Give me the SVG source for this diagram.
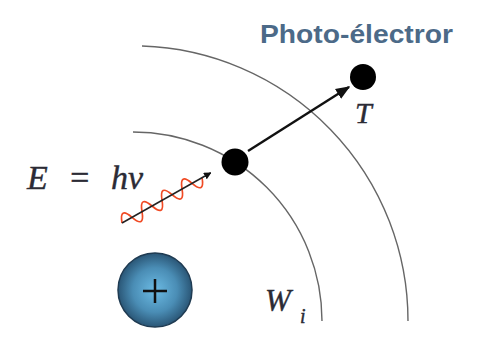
<svg xmlns="http://www.w3.org/2000/svg" width="482" height="343" viewBox="0 0 482 343">
<defs>
<radialGradient id="nuc" cx="0.5" cy="0.5" r="0.5">
<stop offset="0" stop-color="#6cbbe4"/>
<stop offset="0.6" stop-color="#4a8db5"/>
<stop offset="1" stop-color="#2a5676"/>
</radialGradient>
<marker id="ah" viewBox="0 0 10 10" refX="9" refY="5" markerWidth="5" markerHeight="5" orient="auto" markerUnits="strokeWidth">
<path d="M0,0 L10,5 L0,10 z" fill="#111"/>
</marker>
<marker id="ah2" viewBox="0 0 10 10" refX="9" refY="5" markerWidth="6" markerHeight="6" orient="auto" markerUnits="strokeWidth">
<path d="M0,1 L10,5 L0,9 z" fill="#111"/>
</marker>
</defs>
<style>
.shell{fill:none;stroke:#666;stroke-width:1.4}
.math{font-family:"Liberation Serif","DejaVu Serif",serif;font-style:italic;fill:#2b2b35;stroke:#2b2b35;stroke-width:0.4}
.title{font-family:"Liberation Sans",Arial,sans-serif;font-weight:bold;fill:#4c6a88}
.el{fill:#000}
</style>
<rect width="482" height="343" fill="#fff"/>
<g id="shells">
<path class="shell" d="M133,132 A189,189 0 0 1 322,321"/>
<path class="shell" d="M142,46 A275,275 0 0 1 408,321"/>
</g>
<g id="nucleus">
<circle cx="155" cy="290" r="37" fill="url(#nuc)" stroke="#1f3b52" stroke-width="1.5"/>
<path d="M143,291 H167 M155,279 V303" stroke="#111" stroke-width="2.5"/>
</g>
<g id="connectors">
<g transform="translate(122,223) rotate(-29.5)">
<path d="M0,0 q5.75,-16 11.5,0 t11.5,0 t11.5,0 t11.5,0 t11.5,0 t11.5,0 t11.5,0 t11.5,0" fill="none" stroke="#f04a24" stroke-width="1.7"/>
<line x1="0" y1="0" x2="102" y2="0" stroke="#222" stroke-width="1.5" marker-end="url(#ah)"/>
</g>
<line x1="248" y1="151" x2="349" y2="87" stroke="#111" stroke-width="2.4" marker-end="url(#ah2)"/>
</g>
<g id="electron1"><circle class="el" cx="235" cy="162" r="13.5"/></g>
<g id="electron2"><circle class="el" cx="363" cy="77" r="13"/></g>
<g id="labels">
<text class="title" x="260" y="43" font-size="25" textLength="193" lengthAdjust="spacingAndGlyphs">Photo-électror</text>
<text class="math" x="27" y="189" font-size="34">E</text>
<text class="math" x="68" y="189" font-size="34" font-style="normal">=</text>
<text class="math" x="111" y="189" font-size="34">hν</text>
<text class="math" x="355" y="123" font-size="30">T</text>
<text class="math" x="265" y="311" font-size="31">W</text>
<text class="math" x="300" y="323" font-size="20">i</text>
</g>
</svg>
